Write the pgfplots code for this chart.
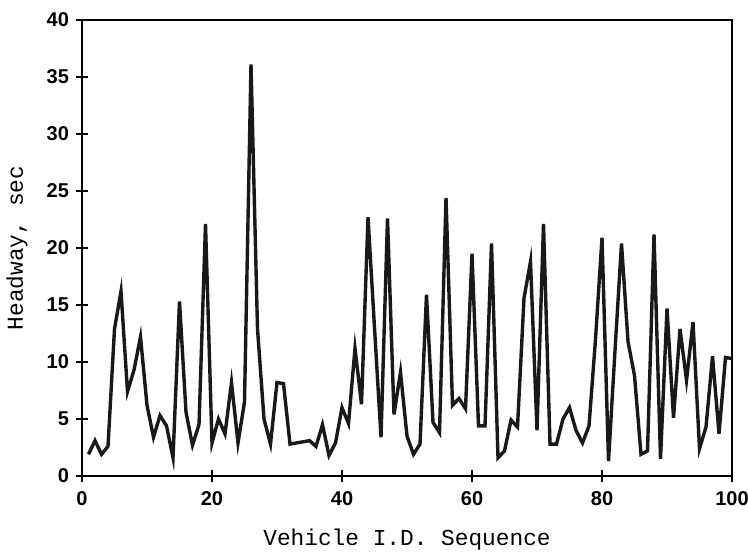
\documentclass[border=0pt]{standalone}
\usepackage{pgfplots}
\pgfplotsset{compat=1.18}
\usepackage{fontspec}
\setmainfont{Liberation Mono}
\newfontfamily\ticksf{Liberation Sans}
\pgfplotstableread{
x y
1 1.9
2 3.1
3 1.9
4 2.6
5 12.9
6 16.2
7 7.4
8 9.3
9 12.2
10 6.2
11 3.4
12 5.3
13 4.4
14 1.6
15 15.3
16 5.6
17 2.7
18 4.5
19 22.1
20 2.9
21 5.0
22 3.7
23 8.2
24 2.9
25 6.5
26 36.1
27 12.9
28 5.0
29 2.8
30 8.2
31 8.1
32 2.8
33 2.9
34 3.0
35 3.1
36 2.6
37 4.5
38 1.8
39 2.9
40 6.0
41 4.6
42 11.2
43 6.3
44 22.7
45 13.0
46 3.4
47 22.6
48 5.4
49 9.1
50 3.5
51 1.9
52 2.8
53 15.9
54 4.7
55 3.8
56 24.4
57 6.2
58 6.8
59 5.9
60 19.5
61 4.4
62 4.4
63 20.4
64 1.6
65 2.2
66 4.9
67 4.3
68 15.6
69 18.8
70 4.0
71 22.1
72 2.8
73 2.8
74 5.0
75 6.0
76 4.0
77 2.9
78 4.4
79 12.0
80 20.9
81 1.3
82 11.0
83 20.4
84 11.8
85 8.8
86 1.9
87 2.2
88 21.2
89 1.5
90 14.7
91 5.1
92 12.9
93 8.4
94 13.5
95 2.4
96 4.3
97 10.5
98 3.7
99 10.4
100 10.3
}\headway
\begin{document}
\begin{tikzpicture}
\begin{axis}[
  scale only axis,
  width=325pt, height=228pt,
  xmin=0, xmax=100, ymin=0, ymax=40,
  xtick={0,20,40,60,80,100},
  ytick={0,5,10,15,20,25,30,35,40},
  axis line style={line width=1pt, black},
  tick style={line width=1pt, black},
  major tick length=6pt,
  tick align=center,
  xtick pos=bottom, ytick pos=left,
  /pgf/number format/assume math mode=true,
  ticklabel style={font=\ticksf\bfseries\fontsize{10}{12}\selectfont},
  yticklabel style={xshift=0pt},
  xticklabel style={yshift=-1pt},
  xlabel={Vehicle I.D. Sequence},
  ylabel={Headway, sec},
  label style={font=\fontsize{11.4}{13}\selectfont},
  xlabel style={at={(axis description cs:0.5,0)}, anchor=center, yshift=-32pt},
  ylabel style={at={(axis description cs:0,0.5)}, anchor=center, rotate=0, yshift=32.5pt},
  clip=false,
]
\addplot[line width=1.7pt, black!90] table[x=x,y=y] {\headway};
\coordinate (bl) at (rel axis cs:0,0);
\coordinate (tr) at (rel axis cs:1,1);
\end{axis}
\pgfresetboundingbox
\path ([shift={(-41pt,-41pt)}]bl) rectangle ([shift={(8pt,10pt)}]tr);
\end{tikzpicture}
\end{document}
